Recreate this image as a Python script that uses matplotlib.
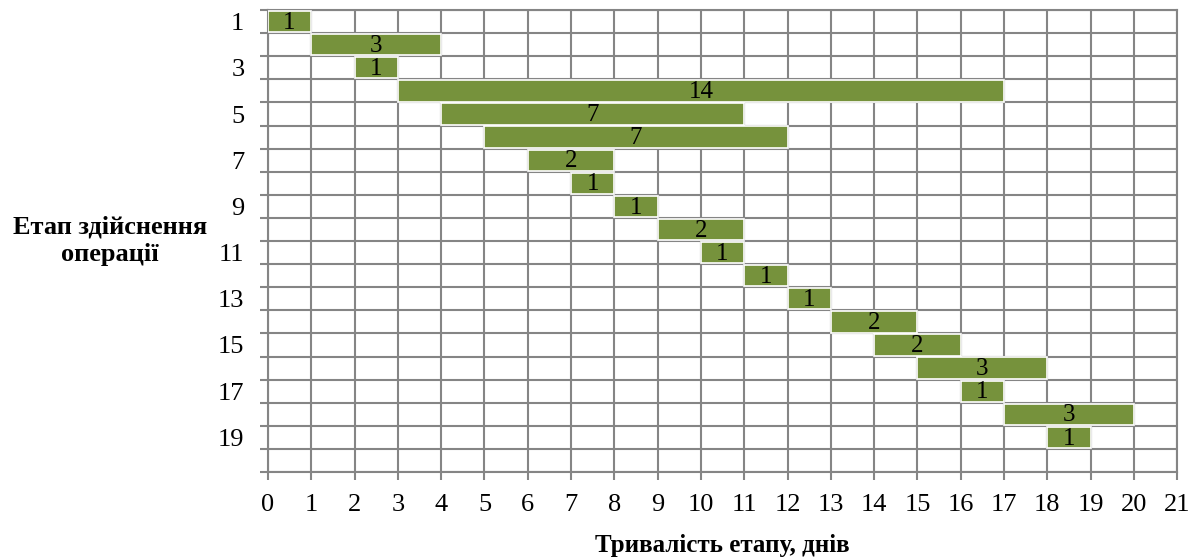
import matplotlib
matplotlib.use("Agg")
import matplotlib.pyplot as plt
import numpy as np

stages = list(range(1, 20))
starts = [0, 1, 2, 3, 4, 5, 6, 7, 8, 9, 10, 11, 12, 13, 14, 15, 16, 17, 18]
durations = [1, 3, 1, 14, 7, 7, 2, 1, 1, 2, 1, 1, 1, 2, 2, 3, 1, 3, 1]
n_rows = 20
x_max = 21
y_tick_labels = [str(i) for i in range(1, 20, 2)]

plt.rcParams['font.family'] = ['Liberation Serif', 'DejaVu Serif']

fig = plt.figure(figsize=(12, 5.59), dpi=100)
ax = fig.add_axes([0.2233, 0.1556, 0.981 - 0.2233, 0.982 - 0.1556])

grid_c = '#858585'
ax.barh(stages, durations, left=starts, height=0.92, color='#76923C',
        edgecolor='white', linewidth=1.2, zorder=3)
for s, st, d in zip(stages, starts, durations):
    ax.text(st + d / 2, s + 0.05, str(d), ha='center', va='center', fontsize=18, zorder=4)

ax.set_xlim(0, x_max)
ax.set_ylim(n_rows + 0.5, 0.5)
ax.set_xticks(range(0, x_max + 1))
ax.set_yticks(range(1, 20, 2))
ax.set_yticklabels(y_tick_labels)
ax.set_yticks(np.arange(0.5, n_rows + 1, 1), minor=True)

ax.grid(True, which='major', axis='x', color=grid_c, linewidth=1.5, zorder=0)
ax.grid(True, which='minor', axis='y', color=grid_c, linewidth=1.5, zorder=0)
ax.set_axisbelow(True)

for sp in ax.spines.values():
    sp.set_color(grid_c)
    sp.set_linewidth(1.5)

ax.tick_params(axis='x', which='major', length=6, width=1.5, color=grid_c,
               labelsize=19, pad=10)
ax.tick_params(axis='y', which='major', length=0, labelsize=19, pad=17)
ax.tick_params(axis='y', which='minor', length=6, width=1.5, color=grid_c)

fig.text(0.0917, 0.57, 'Етап здійснення\nоперації', ha='center', va='center',
         fontsize=19, fontweight='bold', linespacing=1.25)
fig.text(0.602, 0.024, 'Тривалість етапу, днів', ha='center', va='center',
         fontsize=18, fontweight='bold')

fig.savefig('out.png', dpi=100)
